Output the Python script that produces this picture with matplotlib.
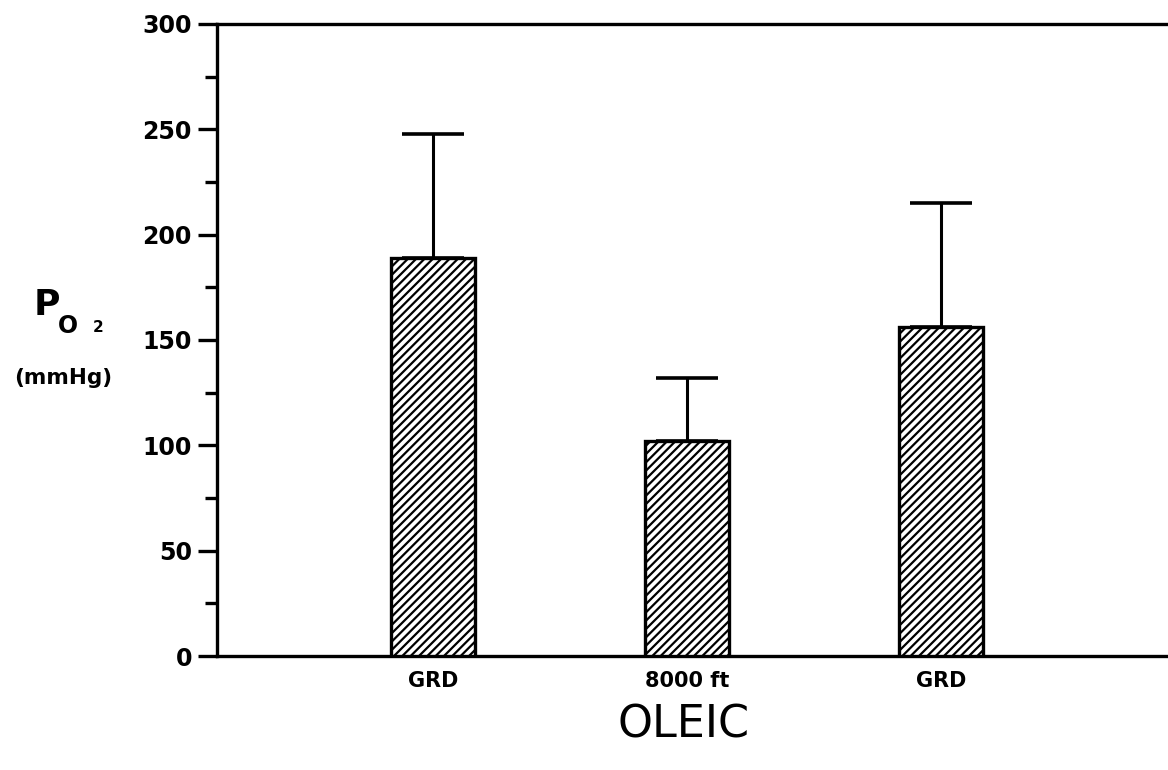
import matplotlib
matplotlib.use("Agg")
import matplotlib.pyplot as plt
from matplotlib.ticker import MultipleLocator

categories = ["GRD", "8000 ft", "GRD"]
means = [189, 102, 156]
sem_upper = [59, 30, 59]
group_label = "OLEIC"

plt.rcParams['hatch.linewidth'] = 1.6
plt.rcParams['font.family'] = ['DejaVu Sans']

fig = plt.figure(figsize=(11.68, 7.70), dpi=100)
ax = fig.add_axes([217/1168, 1 - 656/770, 1 - 217/1168, (656 - 24)/770])

x = [1, 2, 3]
ax.bar(x, means, width=0.33, facecolor='white', edgecolor='black',
       linewidth=2.4, hatch='////', zorder=3)
ax.errorbar(x, means, yerr=[[0]*3, sem_upper], fmt='none', ecolor='black',
            elinewidth=2.2, capsize=22, capthick=2.6, zorder=2)

ax.set_xlim(0.15, 3.894)
ax.set_ylim(0, 300)
ax.yaxis.set_major_locator(MultipleLocator(50))
ax.yaxis.set_minor_locator(MultipleLocator(25))
ax.tick_params(axis='y', which='major', length=14, width=2.4, pad=4,
               labelsize=17)
ax.tick_params(axis='y', which='minor', length=9, width=2.4)
for lab in ax.get_yticklabels():
    lab.set_fontweight('bold')

ax.set_xticks(x)
ax.set_xticklabels(categories, fontsize=15, fontweight='bold')
ax.tick_params(axis='x', length=0, pad=11)

for s in ['left', 'bottom', 'top']:
    ax.spines[s].set_linewidth(2.4)
ax.spines['right'].set_visible(False)

fig.text(684/1168, 1 - 725/770, group_label, fontsize=32, ha='center',
         va='center')
fig.text(47/1168, 1 - 305/770, "P", fontsize=26, ha='center', va='center',
         fontweight='bold')
fig.text(68/1168, 1 - 326/770, "O", fontsize=17, ha='center', va='center',
         fontweight='bold')
fig.text(98/1168, 1 - 328/770, "2", fontsize=11, ha='center', va='center',
         fontweight='bold')
fig.text(63/1168, 1 - 378/770, "(mmHg)", fontsize=15.5, ha='center',
         va='center', fontweight='bold')

fig.savefig("out.png", dpi=100)
